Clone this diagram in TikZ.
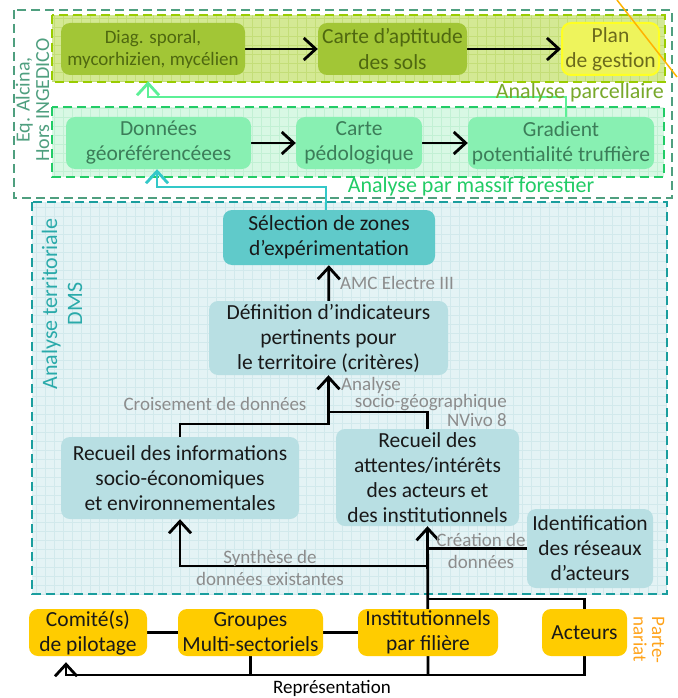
\documentclass[tikz,border=0pt]{standalone}
\usepackage{fontspec}
\setmainfont{Carlito}
\usetikzlibrary{arrows.meta,calc}
\pgfdeclarelayer{back}\pgfdeclarelayer{conn}
\pgfsetlayers{back,conn,main}
\definecolor{outerc}{HTML}{4F9F7F}
\definecolor{parcb}{HTML}{99CC00}
\definecolor{parcbg}{HTML}{D4E994}
\definecolor{parcgrid}{HTML}{C4DE78}
\definecolor{diagfill}{HTML}{A2C636}
\definecolor{diagtext}{HTML}{4F6810}
\definecolor{planfill}{HTML}{EEF45C}
\definecolor{planborder}{HTML}{FFFF22}
\definecolor{plantext}{HTML}{6B6A1C}
\definecolor{parclab}{HTML}{78A82A}
\definecolor{massb}{HTML}{22CC66}
\definecolor{massbg}{HTML}{D8F8E4}
\definecolor{massgrid}{HTML}{C2F0D4}
\definecolor{massfill}{HTML}{88F0B2}
\definecolor{masstext}{HTML}{3C7D59}
\definecolor{greenarr}{HTML}{5CF096}
\definecolor{tealarr}{HTML}{33C8C8}
\definecolor{terrb}{HTML}{1A9E9E}
\definecolor{terrbg}{HTML}{E4F3F5}
\definecolor{terrgrid}{HTML}{D2E9EC}
\definecolor{terrfill}{HTML}{B8DFE3}
\definecolor{selfill}{HTML}{60CACA}
\definecolor{terrlab}{HTML}{2AAAAA}
\definecolor{graytxt}{HTML}{8C8C8C}
\definecolor{yel}{HTML}{FFCC00}
\definecolor{orng}{HTML}{FFA31A}
\definecolor{diagline}{HTML}{FFB300}
\newcommand\mainsz{\fontsize{21.5}{25}\selectfont}
\newcommand\labsz{\fontsize{19}{22}\selectfont}
\begin{document}
\begin{tikzpicture}[x=1pt,y=-1pt,
  box/.style={rounded corners=9pt,align=center,inner sep=0pt,font=\mainsz,text=black!90},
  parcbox/.style={box,fill=diagfill,text=diagtext},
  massbox/.style={box,fill=massfill,text=masstext},
  terrbox/.style={box,fill=terrfill},
  yelbox/.style={box,fill=yel,minimum height=47pt},
  arr/.style={line width=2.8pt,-{Straight Barb[length=12pt,width=22pt,line width=2.8pt]}},
  plain/.style={line width=2.8pt},
  glabel/.style={font=\labsz,text=graytxt,inner sep=0pt},
  dashbox/.style={line width=2pt,dash pattern=on 9pt off 5pt}]
\useasboundingbox (0,0) rectangle (677,698);

% containers
\begin{pgfonlayer}{back}
\fill[white] (0,0) rectangle (677,698);
\draw[outerc,line width=1.5pt,dash pattern=on 9pt off 5pt] (14,10) rectangle (672,198);
\fill[parcbg] (52,15) rectangle (665,82);
\draw[parcgrid,line width=0.6pt,step=9pt] (52,15) grid (665,82);
\draw[dashbox,parcb] (52,15) rectangle (665,82);
\fill[massbg] (52,107) rectangle (664,177);
\draw[massgrid,line width=0.6pt,step=9pt] (52,107) grid (664,177);
\draw[dashbox,massb] (52,107) rectangle (664,177);
\fill[terrbg] (32,202) rectangle (667,594);
\draw[terrgrid,line width=0.6pt,step=9pt] (32,202) grid (667,594);
\draw[dashbox,terrb] (32,202) rectangle (667,594);
\end{pgfonlayer}

% boxes
\node[parcbox,font=\labsz,minimum width=184pt,minimum height=52pt] (diag) at (153,49) {Diag. sporal,\\mycorhizien, mycélien};
\node[parcbox,minimum width=149pt,minimum height=52pt] (carte) at (392.5,49) {Carte d’aptitude\\des sols};
\node[box,fill=planfill,draw=planborder,line width=2pt,text=plantext,minimum width=97pt,minimum height=52pt] (plan) at (610.5,49) {Plan\\de gestion};

\node[massbox,minimum width=185pt,minimum height=52pt] (donnees) at (158.5,143) {Données\\géoréférencéees};
\node[massbox,minimum width=126pt,minimum height=52pt] (pedo) at (359,143) {Carte\\pédologique};
\node[massbox,minimum width=186pt,minimum height=52pt] (gradient) at (561,143) {Gradient\\potentialité truffière};

\node[box,fill=selfill,minimum width=212pt,minimum height=55pt] (selection) at (329,237.5) {Sélection de zones\\d’expérimentation};
\node[terrbox,minimum width=239pt,minimum height=74pt] (definition) at (328.5,338) {Définition d’indicateurs\\pertinents pour\\le territoire (critères)};
\node[terrbox,minimum width=238pt,minimum height=82pt] (recinfo) at (180,478) {Recueil des informations\\socio-économiques\\et environnementales};
\node[terrbox,minimum width=183pt,minimum height=97pt] (recatt) at (427.5,477.5) {Recueil des\\attentes/intérêts\\des acteurs et\\des institutionnels};
\node[terrbox,minimum width=126pt,minimum height=79pt] (ident) at (590,548.5) {Identification\\des réseaux\\d’acteurs};

\node[yelbox,minimum width=118pt] (comite) at (88,632.5) {Comité(s)\\de pilotage};
\node[yelbox,minimum width=145pt] (groupes) at (250.5,632.5) {Groupes\\Multi-sectoriels};
\node[yelbox,minimum width=140pt] (instit) at (428,632.5) {Institutionnels\\par filière};
\node[yelbox,minimum width=85pt] (acteurs) at (584.5,632.5) {Acteurs};

% labels
\node[text=outerc,font=\fontsize{20}{19.5}\selectfont,rotate=90,align=center,inner sep=0pt] (eqlab) at (32.5,100) {Eq. Alcina,\\Hors INGEDICO};
\node[text=parclab,font=\fontsize{22}{25}\selectfont,anchor=east,inner sep=0pt] (parclab) at (664,93) {Analyse parcellaire};
\node[text=massb,font=\fontsize{22}{25}\selectfont,inner sep=0pt] (masslab) at (471,187) {Analyse par massif forestier};
\node[text=terrlab,font=\fontsize{22}{25}\selectfont,rotate=90,align=center,inner sep=0pt] (terrlab) at (62,304) {Analyse territoriale\\DMS};
\node[text=orng,font=\fontsize{19}{18.5}\selectfont,rotate=-90,align=left,inner sep=0pt] (partlab) at (649,640) {Parte-\\nariat};

\node[glabel,anchor=west] (amc) at (340,283) {AMC Electre III};
\node[glabel] (crois) at (215,404) {Croisement de données};
\node[glabel,anchor=west] (ana1) at (341,385) {Analyse};
\node[glabel,anchor=east] (ana2) at (507,403) {socio-géographique};
\node[glabel,anchor=east] (ana3) at (507,420) {NVivo 8};
\node[glabel,align=center] (synth) at (270,568) {Synthèse de\\données existantes};
\node[glabel,align=center] (creat) at (481,551) {Création de\\données};
\node[font=\labsz,inner sep=0pt] (repr) at (332,688) {Représentation};

% coordinates
\coordinate (g1) at (148,97);
\coordinate (t1) at (157,187);
\coordinate (j1) at (328.5,424);
\coordinate (j2) at (328.5,412);
\coordinate (r0) at (428,675);
\coordinate (j3) at (428,566);
\coordinate (p1) at (428,599);
\coordinate (c1) at (66,675);

% connectors
\begin{pgfonlayer}{conn}
\draw[arr] (diag) -- (carte);
\draw[arr] (carte) -- (plan);
\draw[arr] (donnees) -- (pedo);
\draw[arr] (pedo) -- (gradient);
\draw[arr,greenarr,line width=2.4pt,shorten >=6pt] ([xshift=5pt]gradient.north) |- (g1) -- ([xshift=-5pt]diag.south);
\draw[arr,tealarr,line width=2.4pt] ([xshift=-3pt]selection.north) |- (t1) -- ([xshift=-1.5pt]donnees.south);
\draw[arr] (definition) -- (selection);
\draw[arr] (recinfo.north) |- (j1) -- (definition.south);
\draw[plain] (recatt.north) |- (j2);
\draw[arr] (r0) -- (recatt.south);
\draw[arr] (j3) -| (recinfo.south);
\draw[plain] (ident.west) -- (ident.west -| r0);
\draw[plain] (p1) -| (acteurs.north);
\draw[plain] (acteurs.south) |- (r0);
\draw[plain] (groupes.south) |- (r0);
\draw[arr,shorten >=6pt] (r0) -| (comite.south -| c1);
\draw[plain] (comite) -- (groupes);
\draw[plain] (groupes) -- (instit);
\end{pgfonlayer}

\draw[diagline,line width=1.5pt] (617,0) -- (677,77);
\end{tikzpicture}
\end{document}
